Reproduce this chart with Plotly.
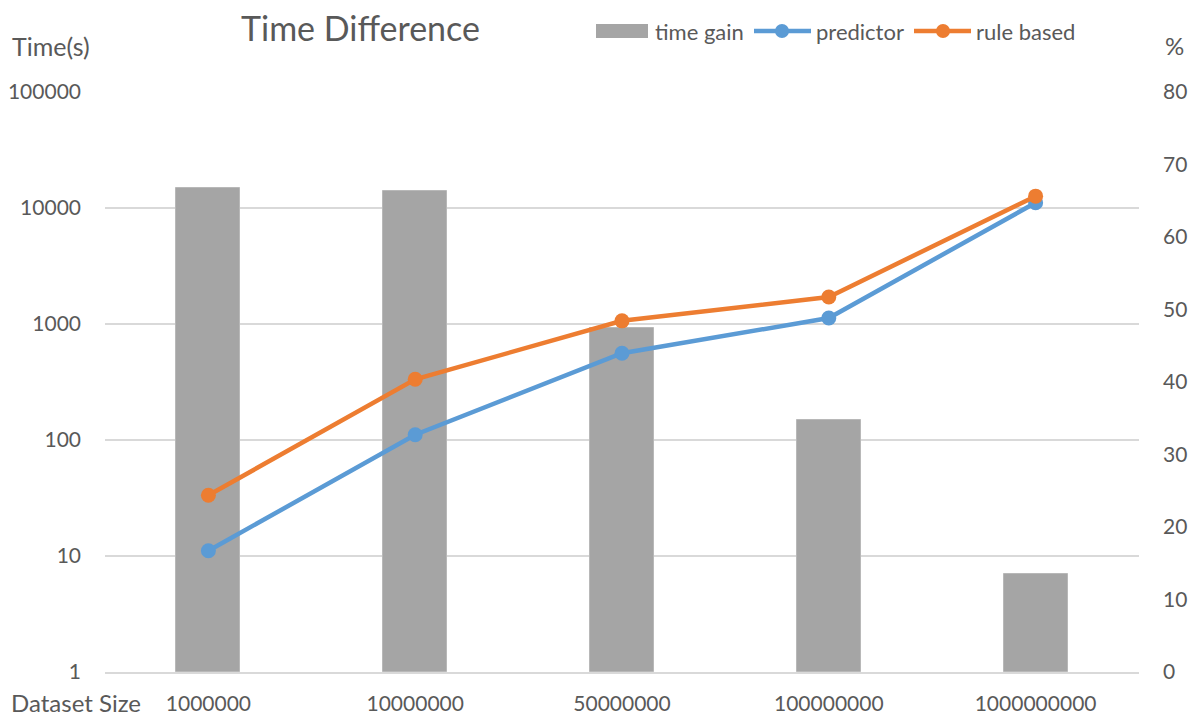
import plotly.graph_objects as go

# Dataset sizes (category axis)
dataset_sizes = ["1000000", "10000000", "50000000", "100000000", "1000000000"]

# Run time in seconds (log axis, left)
predictor = [11.1, 111, 560, 1125, 11100]
rule_based = [33.4, 334, 1065, 1710, 12650]

# Time gain in percent (linear axis, right)
time_gain = [66.8, 66.4, 47.4, 34.7, 13.5]

# Tick labels
time_ticks = [1, 10, 100, 1000, 10000, 100000]
time_tick_text = ["1", "10", "100", "1000", "10000", "100000"]
pct_ticks = [0, 10, 20, 30, 40, 50, 60, 70, 80]

BLUE = "#5b9bd5"
ORANGE = "#ed7d31"
GRAY = "#a5a5a5"
TEXT = "#595959"
GRID = "#d9d9d9"
FONT = "Lato, 'Open Sans', sans-serif"

W, H = 1197, 717
M_L, M_R, M_T, M_B = 105, 58, 92, 45
PW, PH = W - M_L - M_R, H - M_T - M_B


def px(x):
    return (x - M_L) / PW


def py(y):
    return (H - M_B - y) / PH


fig = go.Figure()

# Bars live on the primary (percent) axis so the lines sit above them
fig.add_trace(go.Bar(
    x=dataset_sizes, y=time_gain, name="time gain",
    marker=dict(color=GRAY, line=dict(color="#b8b8b8", width=1)),
    width=0.31, yaxis="y", showlegend=False,
))
fig.add_trace(go.Scatter(
    x=dataset_sizes, y=predictor, name="predictor", mode="lines+markers",
    line=dict(color=BLUE, width=4.5), marker=dict(color=BLUE, size=15),
    yaxis="y2", showlegend=False,
))
fig.add_trace(go.Scatter(
    x=dataset_sizes, y=rule_based, name="rule based", mode="lines+markers",
    line=dict(color=ORANGE, width=4.5), marker=dict(color=ORANGE, size=15),
    yaxis="y2", showlegend=False,
))

shapes = []
annotations = []

# Legend drawn by hand: wide bar swatch, line swatches with markers
shapes.append(dict(type="rect", xref="paper", yref="paper",
                   x0=px(596), x1=px(648), y0=py(38), y1=py(24),
                   fillcolor=GRAY, line=dict(width=0)))
for x0, x1, xc, col in [(754, 811, 782, BLUE), (914, 971, 943, ORANGE)]:
    shapes.append(dict(type="line", xref="paper", yref="paper",
                       x0=px(x0), x1=px(x1), y0=py(31), y1=py(31),
                       line=dict(color=col, width=4.5)))
    shapes.append(dict(type="circle", xref="paper", yref="paper",
                       x0=px(xc - 7), x1=px(xc + 7), y0=py(38), y1=py(24),
                       fillcolor=col, line=dict(width=0)))
for x, label in [(653, "time gain"), (814, "predictor"), (974, "rule based")]:
    annotations.append(dict(text=label, xref="paper", yref="paper",
                            x=px(x), y=py(31), xanchor="left", yanchor="middle",
                            showarrow=False, font=dict(size=22, color=TEXT, family=FONT)))

# Title and axis captions
annotations.append(dict(text="Time Difference", xref="paper", yref="paper",
                        x=px(360), y=py(27), xanchor="center", yanchor="middle",
                        showarrow=False, font=dict(size=34, color=TEXT, family=FONT)))
annotations.append(dict(text="Time(s)", xref="paper", yref="paper",
                        x=px(51), y=py(46), xanchor="center", yanchor="middle",
                        showarrow=False, font=dict(size=25, color=TEXT, family=FONT)))
annotations.append(dict(text="%", xref="paper", yref="paper",
                        x=px(1174), y=py(45), xanchor="center", yanchor="middle",
                        showarrow=False, font=dict(size=24, color=TEXT, family=FONT)))
annotations.append(dict(text="Dataset Size", xref="paper", yref="paper",
                        x=px(76), y=py(702), xanchor="center", yanchor="middle",
                        showarrow=False, font=dict(size=24, color=TEXT, family=FONT)))

fig.update_layout(
    width=W, height=H,
    margin=dict(l=M_L, r=M_R, t=M_T, b=M_B, pad=0),
    paper_bgcolor="white", plot_bgcolor="white",
    font=dict(family=FONT, size=21, color=TEXT),
    showlegend=False,
    bargap=0,
    xaxis=dict(
        type="category", range=[-0.5, 4.5], automargin=False,
        showgrid=False, zeroline=False,
        showline=True, linecolor=GRID, linewidth=1.5,
        ticks="", ticklabelstandoff=12,
        tickfont=dict(size=21, color=TEXT, family=FONT),
    ),
    yaxis=dict(
        side="right", range=[0, 80], tickvals=pct_ticks, automargin=False,
        showgrid=False, zeroline=False, showline=False,
        ticks="", ticklabelstandoff=23,
        tickfont=dict(size=21, color=TEXT, family=FONT),
    ),
    yaxis2=dict(
        overlaying="y", side="left", type="log", range=[0, 5], automargin=False,
        tickvals=time_ticks, ticktext=time_tick_text,
        showgrid=True, gridcolor=GRID, gridwidth=1.5,
        zeroline=False, showline=False,
        ticks="", ticklabelstandoff=23,
        tickfont=dict(size=21, color=TEXT, family=FONT),
    ),
    shapes=shapes,
    annotations=annotations,
)

fig.write_html("out.html")
